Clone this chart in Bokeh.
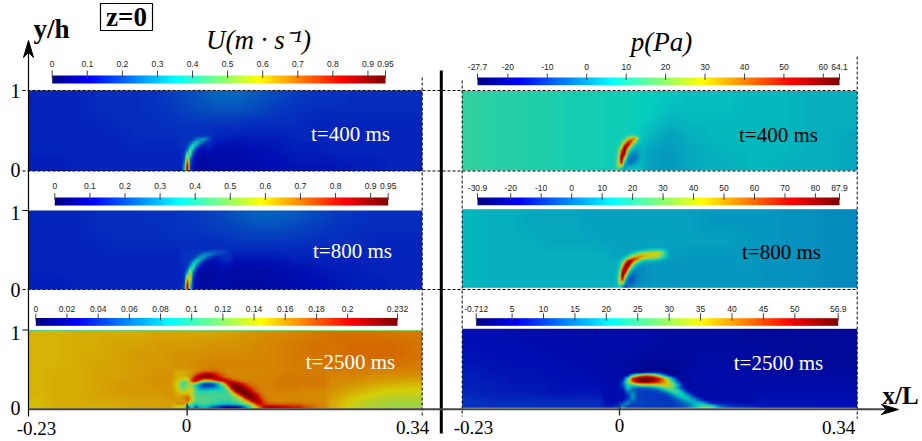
import numpy as np
from bokeh.core.properties import value
from bokeh.embed import file_html
from bokeh.models import LinearColorMapper, Range1d
from bokeh.plotting import figure
from bokeh.resources import INLINE

# ---------- colour bars: range, tick values and labels ----------
U400_RANGE = (0.0, 0.95)
U800_RANGE = (0.0, 0.95)
U2500_RANGE = (0.0, 0.232)
P400_RANGE = (-27.7, 64.1)
P800_RANGE = (-30.9, 87.9)
P2500_RANGE = (-0.712, 56.9)
U_TICKS = [0, 0.1, 0.2, 0.3, 0.4, 0.5, 0.6, 0.7, 0.8, 0.9, 0.95]
U_LABELS = ["0", "0.1", "0.2", "0.3", "0.4", "0.5", "0.6", "0.7", "0.8", "0.9", "0.95"]
U2500_TICKS = [0, 0.02, 0.04, 0.06, 0.08, 0.1, 0.12, 0.14, 0.16, 0.18, 0.2, 0.232]
U2500_LABELS = ["0", "0.02", "0.04", "0.06", "0.08", "0.1", "0.12", "0.14", "0.16", "0.18", "0.2", "0.232"]
P400_TICKS = [-27.7, -20, -10, 0, 10, 20, 30, 40, 50, 60, 64.1]
P400_LABELS = ["-27.7", "-20", "-10", "0", "10", "20", "30", "40", "50", "60", "64.1"]
P800_TICKS = [-30.9, -20, -10, 0, 10, 20, 30, 40, 50, 60, 70, 80, 87.9]
P800_LABELS = ["-30.9", "-20", "-10", "0", "10", "20", "30", "40", "50", "60", "70", "80", "87.9"]
P2500_TICKS = [-0.712, 5, 10, 15, 20, 25, 30, 35, 40, 45, 50, 56.9]
P2500_LABELS = ["-0.712", "5", "10", "15", "20", "25", "30", "35", "40", "45", "50", "56.9"]

U400_BG = [
    [14,14,14,15,15,15,16,18,20,23,23,21,19,17,16,16,15,15,15,15],
    [14,14,14,15,15,15,16,17,19,20,20,19,17,16,15,15,15,15,15,15],
    [14,14,14,14,15,15,15,16,16,16,16,15,15,15,14,14,14,14,14,14],
    [14,14,14,14,14,15,15,15,15,14,13,13,13,14,14,14,14,14,14,14],
    [14,14,14,14,14,14,14,14,12,10,10,11,12,13,13,14,14,14,14,14],
    [13,13,14,14,14,14,14,14,11, 9, 9,10,11,12,12,12,13,13,14,14],
]
U400_JET = [
    [16],
    [16,16,16,16,16,16,17,18,19,19,18,17,16],
    [16,16,16,16,16,18,23,28,30,28,22,17,16],
    [16,16,16,16,18,28,36,32,24,18,15,15,15],
    [16,16,16,17,28,42,32,20,15,14,14,15,15],
    [15,15,15,21,42,38,18,13,12,12,13,13,13],
    [15,15,15,30,50,24,13,11,10,11,11,11,12],
    [15,15,17,48,44,16,11,10, 9,10,10,10,10],
    [14,15,18,62,30,13,10, 9, 8, 9, 9, 9, 9],
    [14,14,22,76,22,12,10, 9, 8, 9, 9, 9, 9],
    [14,14,26,90,20,11, 9, 8, 8, 8, 8, 9, 9],
    [14,14,30,100,18,11,9, 8, 8, 8, 8, 9, 9],
    [13,14,34,100,18,11,9, 8, 8, 8, 8, 9, 9],
]
U800_BG = [
    [14,14,14,15,15,15,16,16,17,18,20,22,22,21,19,17,16,15,15,15],
    [14,14,14,15,15,15,15,16,16,17,18,19,19,18,17,16,15,15,15,15],
    [14,14,14,14,15,15,15,15,15,15,16,16,16,16,15,15,15,14,14,14],
    [14,14,14,14,14,14,14,14,15,15,13,13,13,14,14,14,14,14,14,14],
    [14,14,14,14,14,14,14,14,13,10, 9, 9,10,11,12,13,13,14,14,14],
    [13,13,14,14,14,14,14,14,13,10, 8, 8, 9,10,11,12,13,13,14,14],
]
U800_JET = [
    [16],
    [16,16,16,16,16,16,16,17,17,18,20,22,22,21,20,19,17,16,16],
    [16,16,16,16,16,16,17,19,24,28,28,25,21,19,18,17,16,16,16],
    [16,16,16,16,16,17,21,30,34,27,20,16,14,14,14,15,15,16,16],
    [15,15,15,16,17,23,36,36,23,16,13,12,12,12,13,14,15,15,16],
    [15,15,15,16,21,38,38,22,14,11,10,10,10,11,12,13,13,13,13],
    [15,15,15,17,32,45,24,14,11,10, 9, 9, 9,10,11,11,11,11,11],
    [15,15,15,22,48,38,16,11,10, 9, 9, 9, 9, 9,10,10,10,10,10],
    [14,15,15,32,62,22,12,10, 9, 8, 8, 8, 9, 9, 9, 9, 9, 9, 9],
    [14,14,16,48,68,16,11, 9, 8, 8, 8, 8, 9, 9, 9, 9, 9, 9, 9],
    [14,14,16,65,62,14,10, 9, 8, 8, 8, 8, 9, 9, 9, 9, 9, 9, 9],
    [14,14,18,82,50,13,10, 9, 8, 8, 8, 9, 9, 9, 9, 9, 9, 9, 9],
    [14,14,20,95,40,13,10, 9, 8, 8, 8, 9, 9, 9, 9, 9, 9, 9, 9],
    [14,14,22,100,36,13,10,9, 9, 9, 9, 9, 9, 9, 9, 9, 9, 9, 9],
]
U2500_BG = [
    [65,65,66,66,66,66,67,67,67,67,68,69,70,71,72,73,73,73,72,72],
    [65,65,66,66,67,67,68,68,68,69,69,70,71,72,73,73,74,74,74,73],
    [65,65,66,66,67,68,68,69,69,70,70,70,71,72,73,73,74,74,74,73],
    [65,65,66,67,67,68,68,69,70,71,71,71,71,72,72,73,73,73,73,72],
    [65,66,66,67,67,68,69,69,70,71,71,71,71,71,71,71,71,70,70,70],
    [65,66,66,67,68,68,69,69,70,71,71,71,71,71,70,70,69,67,66,65],
    [65,66,66,67,68,68,68,69,69,71,71,71,71,70,70,68,65,62,60,60],
    [64,66,66,66,66,67,67,68,68,70,71,72,72,70,69,66,60,57,55,55],
]
U2500_TOP_EDGE = [46, 47, 48, 48, 50, 50, 50, 50, 52, 52, 52, 52]
U2500_JET = [
    [67,67,67,67,67,68,69,70,71,72,72,72,71,71,70,70,70,70,70,70,70,70,70,70,71,71,71,71,71,71,72],
    [66,66,66,66,67,68,70,72,74,75,75,74,72,71,70,70,70,70,70,70,70,70,70,71,71,71,71,71,71,72],
    [66,66,66,66,67,69,74,82,88,90,88,82,76,73,71,70,70,70,70,70,70,70,71,71,71,71,71,71,72],
    [65,65,65,64,66,72,88,96,98,98,96,90,82,76,72,71,70,70,70,70,71,71,71,71,71,71,71,72],
    [65,65,60,55,58,80,92,82,68,70,76,86,92,90,84,78,74,72,71,71,71,71,71,71,71,71,72],
    [64,62,52,44,50,72,70,45,34,30,32,40,55,78,92,94,88,80,75,73,71,71,71,71,71,72],
    [64,60,50,44,55,50,38,24,16,14,16,24,38,52,82,96,98,92,84,77,73,72,71,71,71,72],
    [65,62,54,48,58,60,40,30,26,28,30,33,35,42,60,92,100,100,95,86,78,73,72,71,71,71,72,72,72,72,72,72,71],
    [66,65,60,56,62,62,44,42,42,42,42,42,42,42,46,66,94,100,100,96,84,76,72,71,71,71,71,71,71,71,71,71,71,70],
    [67,66,66,66,66,56,44,44,44,44,44,44,44,44,44,52,66,88,100,100,96,86,76,71,71,71,71,71,71,70],
    [68,68,68,70,76,62,46,46,46,45,45,44,44,44,44,46,52,60,82,98,98,92,80,73,71,71,70],
    [68,68,68,68,74,62,46,46,46,46,44,44,42,42,42,44,46,52,60,74,92,94,86,76,72,70,70,70,70,70,70,70,70,70,70,70,70,70,69,68],
    [66,68,70,70,62,44,40,44,44,44,42,40,38,36,36,38,40,44,50,56,66,84,88,80,76,76,75,74,74,74,74,74,74,72,72,72,71,71,70,70],
    [62,62,60,58,20,42,20,34,36,32,24,20,14,10, 8, 8,10,14,24,36,50,62,76,88,92,92,90,88,88,86,84,84,82,78,76,74,72,71,70,69],
]
P400_BG = [
    [42,41,41,40,40,39,39,38,38,37,36,35,35,35,34,34,34,33,33,33],
    [42,41,41,40,40,39,39,38,38,37,35,35,35,35,34,34,34,33,33,33],
    [42,41,41,40,40,39,39,38,38,36,33,34,34,34,34,34,34,33,33,33],
    [42,41,41,40,40,39,39,38,38,34,31,33,34,34,34,34,34,33,33,32],
    [42,41,41,40,40,39,39,38,38,31,30,32,33,34,34,34,34,33,33,32],
    [42,41,41,40,40,39,39,38,38,31,30,32,33,33,34,34,33,33,33,32],
]
P400_JET = [
    [38,38,38,38,38,38,38,38,38,38,38,37,36],
    [38,38,38,38,38,38,39,42,46,48,44,38,36],
    [38,38,38,38,38,39,44,56,70,72,58,42,36],
    [38,38,38,38,38,42,58,80,84,62,46,36,34],
    [38,38,38,38,40,50,78,98,66,44,36,34,34],
    [38,38,38,38,44,62,100,76,46,36,32,32,33],
    [38,38,38,39,48,78,100,52,36,30,30,31,33],
    [38,38,38,39,50,90,92,40,30,27,28,30,33],
    [38,38,38,40,52,100,68,32,26,25,27,30,33],
    [38,38,38,40,56,98,48,28,24,25,28,31,34],
    [38,38,38,40,60,86,36,26,26,28,30,33,35],
    [38,38,38,40,56,58,30,30,32,33,34,35,36],
    [38,38,38,40,44,34,32,35,36,36,36,36,36],
]
P800_BG = [
    [34,33,33,32,32,32,31,31,31,31,31,31,30,30,30,30,29,29,28,28],
    [34,33,33,32,32,32,31,31,31,31,31,31,30,30,30,30,29,29,28,28],
    [34,33,33,33,32,32,32,31,31,31,31,31,31,31,30,30,29,29,28,28],
    [34,33,33,33,33,33,33,33,31,31,31,30,30,30,30,29,29,29,28,28],
    [34,33,33,33,33,33,33,33,31,28,29,30,30,30,30,29,29,29,28,28],
    [34,33,33,33,33,33,33,33,31,28,29,30,30,30,30,29,29,29,28,28],
]
P800_JET = [
    [31,31,31,31,31,31,31,31,31,31,31,31,31,31,32,32,32,32,32,31,31,31,30],
    [31,31,31,31,31,31,31,31,31,32,33,35,37,39,42,44,46,46,44,38,33,31,30],
    [31,31,31,31,31,31,31,33,36,40,46,52,56,58,60,61,62,60,52,42,34,31,30],
    [32,32,32,32,32,33,35,42,52,62,68,70,68,65,62,61,60,56,48,40,33,31,30],
    [32,32,32,32,33,36,44,65,82,85,75,62,52,48,46,45,44,40,36,33,31,30,30],
    [33,33,33,33,35,44,70,95,90,68,48,38,35,34,33,33,32,32,31,31,30,30,30],
    [33,33,33,33,37,58,92,100,65,42,34,31,30],
    [33,33,33,33,40,75,100,78,44,32,28,28,28,29,29,30],
    [33,33,33,34,44,90,96,52,32,27,27,28,28,29,29,30],
    [33,33,33,34,50,100,72,34,26,25,27,28,28,29,29,29,30],
    [33,33,33,35,56,98,48,26,22,24,27,28,28,29,29,29,30],
    [33,33,33,35,60,82,32,22,20,24,27,28,29,29,29,29,30],
    [33,33,33,35,55,55,26,22,23,26,28,29,29,29,29,30],
    [33,33,33,34,42,30,18,26,27,28,29,29,30],
]
P2500_BG = [
    [11,11,10,10,10, 9, 9, 9, 9, 9, 8, 8, 8, 8, 7, 7, 7, 7, 7, 7],
    [11,11,11,10,10,10, 9, 9, 9, 9, 8, 8, 8, 8, 8, 7, 7, 7, 7, 7],
    [12,11,11,11,10,10,10, 9, 9, 8, 8, 8, 9, 8, 8, 8, 7, 7, 7, 7],
    [12,12,11,11,11,10,10, 9, 8, 6, 6, 8, 9, 9, 8, 8, 8, 7, 7, 7],
    [13,12,12,12,11,11,10, 9, 8, 8, 9, 9, 9, 9, 9, 8, 8, 8, 8, 8],
    [13,13,12,12,12,11,11,10,10,10,10,10, 9, 9, 9, 9, 9, 9, 9, 9],
    [14,13,13,13,12,12,12,12,12,12,12,12,11,11,11,10,10,10,10,10],
    [16,15,15,15,15,15,15,15,16,16,16,16,15,14,13,12,12,12,11,11],
]
P2500_JET = [
    [10,10,10,10,10, 9, 8, 6, 4, 3, 3, 3, 4, 5, 6, 7, 8, 8, 9],
    [10,10,10,10,10, 9, 7, 5, 3, 2, 2, 2, 3, 4, 5, 7, 8, 8, 9],
    [10,10,10,10, 9, 8, 6, 5, 8,12,14,12, 8, 4, 5, 6, 8, 8, 9],
    [10,10,10, 9, 8,12,40,62,74,76,70,56,34,18, 8, 6, 7, 8, 9],
    [10,10,10, 9,12,40,85,96,100,100,98,90,74,55,30,12,7, 8, 9],
    [10,10,10, 9,18,50,78,95,100,98,92,84,72,62,42,20, 9, 8, 9],
    [10,10,10, 9,20,40,44,52,58,60,60,62,64,62,52,34,14, 9, 9],
    [10,10,10,10,14,38,26,22,22,24,28,34,44,52,48,30,14, 9, 9],
    [10,10,10,10,10,26,24,18,17,17,18,20,26,36,46,44,26,12, 9],
    [10,10,10,10,10,18,30,18,17,17,17,17,18,22,32,40,38,24,12, 9],
    [10,10,10,10,10,14,30,18,17,17,17,16,16,18,22,30,38,36,22,12,10, 9],
    [10,10,10,10,10,20,26,18,18,17,17,17,16,16,18,22,28,34,34,24,14,10],
    [11,11,11,12,20,28,18,18,18,17,17,17,17,17,17,19,22,26,32,36,34,22,14,12,12,12,11],
    [13,13,13,16,28,19,17,17,17,17,17,17,17,17,17,18,20,24,30,38,46,46,40,28,22,18,16,15,15,14,14,13],
]

# ---------- style ----------
SERIF = value("Liberation Serif")
SANS = value("Liberation Sans")
BAR_ANCHORS = [(0, (0, 0, 130)), (11, (0, 0, 255)), (37, (0, 255, 255)), (50, (128, 255, 128)),
               (62, (255, 255, 0)), (87, (255, 0, 0)), (100, (128, 0, 0))]
FIELD_ANCHORS = [(0, (0, 0, 110)), (11, (0, 15, 180)), (15, (5, 45, 190)), (37, (5, 205, 190)),
                 (50, (120, 215, 110)), (62, (215, 205, 5)), (87, (210, 0, 0)), (100, (110, 0, 0))]
def make_palette(anchors):
    pos = np.linspace(0, 100, 256)
    xs = [a[0] for a in anchors]
    chans = [np.interp(pos, xs, [a[1][c] for a in anchors]) for c in range(3)]
    return ["#%02x%02x%02x" % (int(r), int(g), int(b)) for r, g, b in zip(*chans)]
BAR_PALETTE = make_palette(BAR_ANCHORS)
FIELD_PALETTE = make_palette(FIELD_ANCHORS)

# ---------- canvas: the whole 922x441 window ----------
X0, X1, Y0, Y1 = 0, 922, 0, 441
p = figure(width=X1 - X0, height=Y1 - Y0, output_backend="svg", toolbar_location=None,
           x_axis_type=None, y_axis_type=None, x_range=Range1d(X0, X1), y_range=Range1d(Y1, Y0),
           min_border=0, outline_line_color=None, background_fill_color="white", border_fill_color="white")
p.grid.visible = False

def xrange_for(px0, px1, v0, v1):
    s = (v1 - v0) / (px1 - px0)
    return Range1d(v0 + (X0 - px0) * s, v0 + (X1 - px0) * s)
def yrange_for(px_low, px_high, v0, v1):
    s = (v1 - v0) / (px_high - px_low)
    return Range1d(v0 + (Y1 - px_low) * s, v0 + (Y0 - px_low) * s)

p.extra_x_ranges["xl"] = xrange_for(28, 421.7, -0.23, 0.34)
p.extra_x_ranges["xr"] = xrange_for(461.7, 856.7, -0.23, 0.34)

def grid(rows):
    n = max(len(r) for r in rows)
    return np.flipud(np.array([r + [r[-1]] * (n - len(r)) for r in rows], dtype=float))

def shade(a, out_w, out_h):
    """Gouraud-style shading of the read-off cells for display, like the solver's own plot."""
    h, w = a.shape
    cx = (np.arange(out_w) + 0.5) / out_w * w - 0.5
    cy = (np.arange(out_h) + 0.5) / out_h * h - 0.5
    b = np.array([np.interp(cx, np.arange(w), row) for row in a])
    return np.array([np.interp(cy, np.arange(h), col) for col in b.T]).T

W, H, FEATHER = 395, 80, 7.0

def panel(name, xname, ybox, vrange, bg, jet, jet_box, edge=None):
    p.extra_y_ranges[name] = yrange_for(ybox[1], ybox[0], 0, 1)
    lo, hi = vrange
    mapper = LinearColorMapper(palette=FIELD_PALETTE, low=lo, high=hi)
    field = shade(grid(bg), W, H)
    x, dw, y, dh = jet_box
    c0, cw = int(round((x + 0.23) / 0.57 * W)), int(round(dw / 0.57 * W))
    r0, rh = int(round(y * H)), int(round(dh * H))
    local = shade(grid(jet), cw, rh)
    wx = np.clip(np.minimum(np.arange(cw) + 1, cw - np.arange(cw)) / FEATHER, 0, 1)
    wy = np.clip((rh - np.arange(rh)) / FEATHER, 0, 1)
    mask = np.outer(wy, wx)
    field[r0:r0 + rh, c0:c0 + cw] = mask * local + (1 - mask) * field[r0:r0 + rh, c0:c0 + cw]
    if edge:
        field[-2:] = shade(grid([edge]), W, 2)
    img = lo + field / 100 * (hi - lo)
    p.image(image=[img], x=-0.23, y=0, dw=0.57, dh=1, color_mapper=mapper,
            x_range_name=xname, y_range_name=name)

def colorbar(name, box, vrange, ticks, labels, tick_top, label_y):
    l, r, top, bottom = box
    lo, hi = vrange
    p.extra_x_ranges[name] = xrange_for(l, r, lo, hi)
    mapper = LinearColorMapper(palette=BAR_PALETTE, low=lo, high=hi)
    ramp = np.linspace(lo, hi, 400).reshape(1, 400)
    p.image(image=[ramp], x=lo, y=top, dw=hi - lo, dh=bottom - top, color_mapper=mapper, x_range_name=name)
    p.segment(x0=ticks, x1=ticks, y0=[tick_top] * len(ticks), y1=[top + 2.5] * len(ticks),
              line_color="#444444", line_width=1, x_range_name=name)
    p.text(x=ticks, y=[label_y] * len(ticks), text=labels, text_font=SANS, text_font_size="8.5px",
           text_color="#222222", text_align="center", text_baseline="middle", x_range_name=name)

# fields
panel("u1", "xl", (90, 170.5), U400_RANGE, U400_BG, U400_JET, (-0.0151, 0.0565, 0, 0.485))
panel("u2", "xl", (210, 289), U800_RANGE, U800_BG, U800_JET, (-0.0151, 0.0825, 0, 0.532))
panel("u3", "xl", (329.5, 408), U2500_RANGE, U2500_BG, U2500_JET, (-0.0245, 0.2317, 0, 0.535), U2500_TOP_EDGE)
panel("p1", "xr", (90.5, 170), P400_RANGE, P400_BG, P400_JET, (-0.0238, 0.0563, 0, 0.49))
panel("p2", "xr", (208.7, 287.3), P800_RANGE, P800_BG, P800_JET, (-0.0224, 0.0996, 0, 0.534))
panel("p3", "xr", (328.3, 407.3), P2500_RANGE, P2500_BG, P2500_JET, (-0.0303, 0.2309, 0, 0.532))

# colour bars
colorbar("b1", (51.7, 385, 75, 83), U400_RANGE, U_TICKS, U_LABELS, 70, 63)
colorbar("b2", (54.3, 387.7, 197, 205), U800_RANGE, U_TICKS, U_LABELS, 192.5, 185)
colorbar("b3", (35.3, 397, 317.5, 325.3), U2500_RANGE, U2500_TICKS, U2500_LABELS, 313, 308)
colorbar("b4", (477, 839, 77, 84.7), P400_RANGE, P400_TICKS, P400_LABELS, 73, 66.7)
colorbar("b5", (477, 839, 197, 204.7), P800_RANGE, P800_TICKS, P800_LABELS, 192.7, 187)
colorbar("b6", (475.7, 837.7, 317.7, 325.3), P2500_RANGE, P2500_TICKS, P2500_LABELS, 312.7, 308.3)

# dashed guides
for yy, a, b in [(90, 22, 857), (170.5, 22, 857), (289, 22, 857)]:
    p.segment(x0=[a], x1=[b], y0=[yy], y1=[yy], line_color="black", line_width=1, line_dash="3 2")
for xx, a, b in [(421.7, 77, 416), (461.7, 80, 416), (856.7, 56, 418)]:
    p.segment(x0=[xx], x1=[xx], y0=[a], y1=[b], line_color="black", line_width=1, line_dash="3 2")

# axes and divider
p.segment(x0=[440.8], x1=[440.8], y0=[70], y1=[433], line_color="black", line_width=3)
p.segment(x0=[28], x1=[28], y0=[52], y1=[416], line_color="black", line_width=1.2)
p.segment(x0=[28], x1=[888], y0=[408.8], y1=[408.8], line_color="#444444", line_width=2)
p.patch(x=[28, 33, 28, 23], y=[40, 57, 52, 57], color="black")
p.patch(x=[898, 881, 886, 881], y=[409, 404, 409, 414], color="black")
p.segment(x0=[22, 22], x1=[28, 28], y0=[210, 329.5], y1=[210, 329.5], line_color="black", line_width=1)
p.segment(x0=[186.7, 619], x1=[186.7, 619], y0=[403, 403], y1=[415, 415], line_color="#333333", line_width=1.5)

def txt(x, y, s, size, color="black", style="normal", font=SERIF):
    p.text(x=[x], y=[y], text=[s], text_font=font, text_font_size=f"{size}px", text_color=color,
           text_font_style=style, text_align="center", text_baseline="middle")

# axis tick labels
for y_, s in [(90, "1"), (169.5, "0"), (212, "1"), (289, "0"), (332, "1"), (407, "0")]:
    txt(15, y_, s, 20)
for x_, y_, s in [(36, 428, "-0.23"), (186, 425, "0"), (412, 427, "0.34"),
                  (473, 427, "-0.23"), (619, 425, "0"), (838, 427, "0.34")]:
    txt(x_, y_, s, 19)

# captions
txt(258, 39, "U(m · s⁻¹)", 27, style="italic")
txt(661, 41, "p(Pa)", 27, style="italic")
txt(51, 28, "y/h", 27, style="bold")
txt(126, 16, "z=0", 27, style="bold")
p.quad(left=[100], right=[152], top=[3], bottom=[30], fill_color=None, line_color="black", line_width=1.2)
txt(900, 395, "x/L", 25, style="bold")

# time stamps
txt(350, 133, "t=400 ms", 21, "white")
txt(778, 134, "t=400 ms", 21)
txt(352, 250, "t=800 ms", 21, "white")
txt(781, 251, "t=800 ms", 21)
txt(350, 361, "t=2500 ms", 21, "white")
txt(778, 362, "t=2500 ms", 21, "white")

open("out.html", "w").write(file_html(p, INLINE))
